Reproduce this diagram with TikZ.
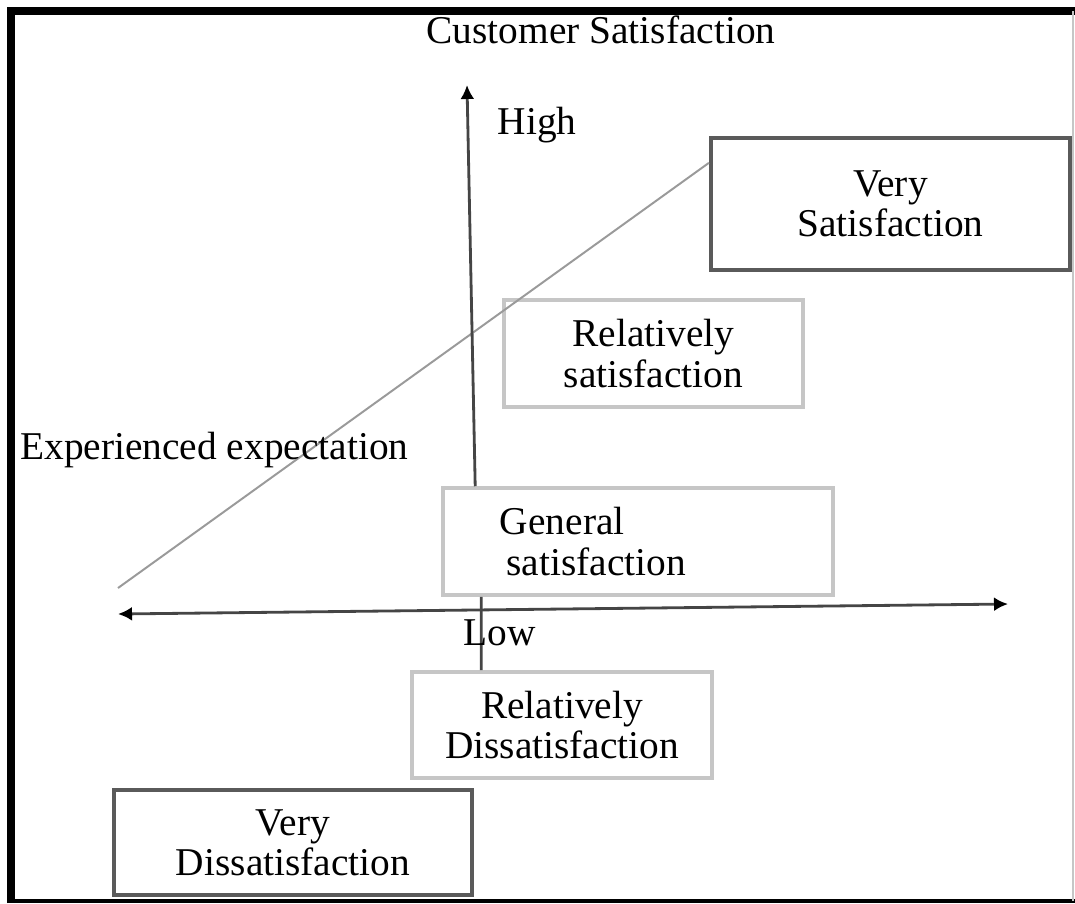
\documentclass[tikz,border=0pt]{standalone}
\usepackage{fontspec}
\setmainfont{Liberation Serif}
\usetikzlibrary{arrows.meta,positioning}

\definecolor{boxdark}{HTML}{5A5A5A}
\definecolor{boxlight}{HTML}{C6C6C6}
\definecolor{axisgray}{HTML}{454545}
\definecolor{guidegray}{HTML}{9A9A9A}

\begin{document}
\begin{tikzpicture}[
        x=0.025cm, y=-0.025cm,
        every node/.style={font=\fontsize{28}{28.5}\selectfont},
        darkbox/.style={rectangle, draw=boxdark, line width=3pt,
        align=center, inner sep=0pt},
        lightbox/.style={rectangle, draw=boxlight, line width=2.5pt,
        align=center, inner sep=0pt},
        axis/.style={draw=axisgray, line width=2pt},
        onetip/.style={-{Latex[length=0.35cm, width=0.35cm, black]}},
        twotips/.style={{Latex[length=0.35cm, width=0.35cm, black]}-{Latex[length=0.35cm, width=0.35cm, black]}},
        guide/.style={draw=guidegray, line width=1.4pt},
        frame/.style={line width=5pt, black}
    ]
        \useasboundingbox (0,0) rectangle (1075,903);

% Frame
        \draw[frame] (11,903) -- (11,11) -- (1075,11);
        \draw[line width=3.5pt] (8,901) -- (1075,901);
        \draw[boxlight, line width=1pt] (1073,11) -- (1073,901);

% Satisfaction levels
        \node[darkbox, minimum width=8.975cm, minimum height=3.3cm]
        (vsat) at (890.5,204) {Very\\ Satisfaction};
        \node[lightbox, minimum width=7.475cm, minimum height=2.675cm]
        (rsat) at (653.5,353.5) {Relatively\\ satisfaction};
        \node[lightbox, minimum height=2.675cm, text width=6.9cm,
        inner xsep=1.425cm, align=left]
        (gen) at (638,541.5) {General\\ \,satisfaction};
        \node[lightbox, minimum width=7.5cm, minimum height=2.65cm]
        (rdis) at (562,725) {Relatively\\ Dissatisfaction};
        \node[darkbox, minimum width=8.95cm, minimum height=2.625cm]
        (vdis) at (293,842.5) {Very\\ Dissatisfaction};

% Axes
        \coordinate (ytop) at (467,85);
        \coordinate (xleft) at (118,614);
        \coordinate (xright) at (1008,604);
        \coordinate (origin) at (118,588);

        \draw[guide] (origin) -- ([yshift=-0.675cm]vsat.north west);
        \draw[axis,onetip] ([xshift=0.85cm]gen.north west) -- (ytop);
        \draw[axis] ([xshift=1.775cm]rdis.north west) -- ([xshift=1cm]gen.south west);
        \draw[axis,twotips] (xleft) -- (xright);

% Axis labels
        \node (title) at (601,30) {Customer Satisfaction};
        \node (high) at (537,125) {High};
        \node (low) at (500,633) {Low};
        \node[anchor=west, inner sep=0pt] (expect) at (20,450) {Experienced expectation};

    \end{tikzpicture}
\end{document}
